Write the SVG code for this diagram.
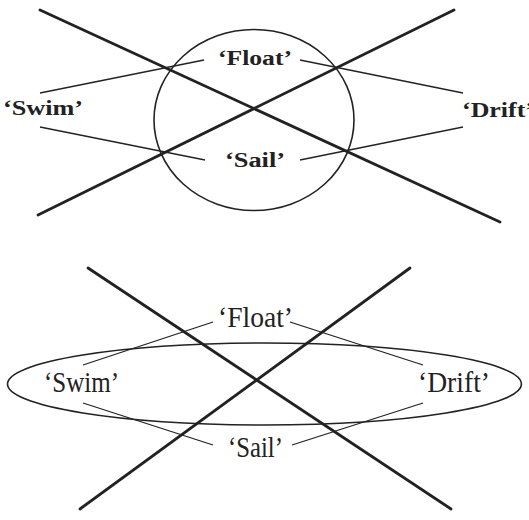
<svg xmlns="http://www.w3.org/2000/svg" width="529" height="520" viewBox="0 0 529 520">
<style>
.thick{stroke:#222;stroke-width:2.8;fill:none;stroke-linecap:round}
.thin{stroke:#222;stroke-width:1.3;fill:none}
.ring{stroke:#222;stroke-width:1.6;fill:none}
.t1{font-family:"Liberation Serif",serif;font-size:20px;font-weight:bold;fill:#222}
.t2{font-family:"Liberation Serif",serif;font-size:29px;fill:#222}
</style>
<rect width="529" height="520" fill="#fff"/>
<g id="connectors">
<line class="thick" x1="40" y1="10" x2="500" y2="222"/>
<line class="thick" x1="454" y1="10" x2="38" y2="215"/>
<line class="thin" x1="40" y1="93" x2="204" y2="60"/>
<line class="thin" x1="40" y1="127" x2="205" y2="160"/>
<line class="thin" x1="300" y1="60" x2="463" y2="93"/>
<line class="thin" x1="300" y1="160" x2="463" y2="127"/>
<line class="thick" x1="88" y1="268" x2="451" y2="509"/>
<line class="thick" x1="410" y1="268" x2="80" y2="509"/>
<line class="thin" x1="213" y1="322" x2="83" y2="365"/>
<line class="thin" x1="290" y1="322" x2="423" y2="365"/>
<line class="thin" x1="83" y1="403" x2="213" y2="445"/>
<line class="thin" x1="292" y1="445" x2="423" y2="403"/>
</g>
<g id="circle-top"><ellipse class="ring" cx="254" cy="120" rx="100" ry="90.5"/></g>
<g id="ellipse-bottom"><ellipse class="ring" cx="264.5" cy="384" rx="257" ry="41"/></g>
<g id="top-float"><text class="t1" x="218" y="65" textLength="74" lengthAdjust="spacingAndGlyphs">‘Float’</text></g>
<g id="top-sail"><text class="t1" x="225" y="167" textLength="60" lengthAdjust="spacingAndGlyphs">‘Sail’</text></g>
<g id="top-swim"><text class="t1" x="3" y="115" textLength="80" lengthAdjust="spacingAndGlyphs">‘Swim’</text></g>
<g id="top-drift"><text class="t1" x="462" y="117" textLength="72" lengthAdjust="spacingAndGlyphs">‘Drift’</text></g>
<g id="bottom-float"><text class="t2" x="218" y="327" textLength="75" lengthAdjust="spacingAndGlyphs">‘Float’</text></g>
<g id="bottom-sail"><text class="t2" x="228" y="457" textLength="55" lengthAdjust="spacingAndGlyphs">‘Sail’</text></g>
<g id="bottom-swim"><text class="t2" x="44" y="392" textLength="75" lengthAdjust="spacingAndGlyphs">‘Swim’</text></g>
<g id="bottom-drift"><text class="t2" x="418" y="392" textLength="72" lengthAdjust="spacingAndGlyphs">‘Drift’</text></g>
</svg>
